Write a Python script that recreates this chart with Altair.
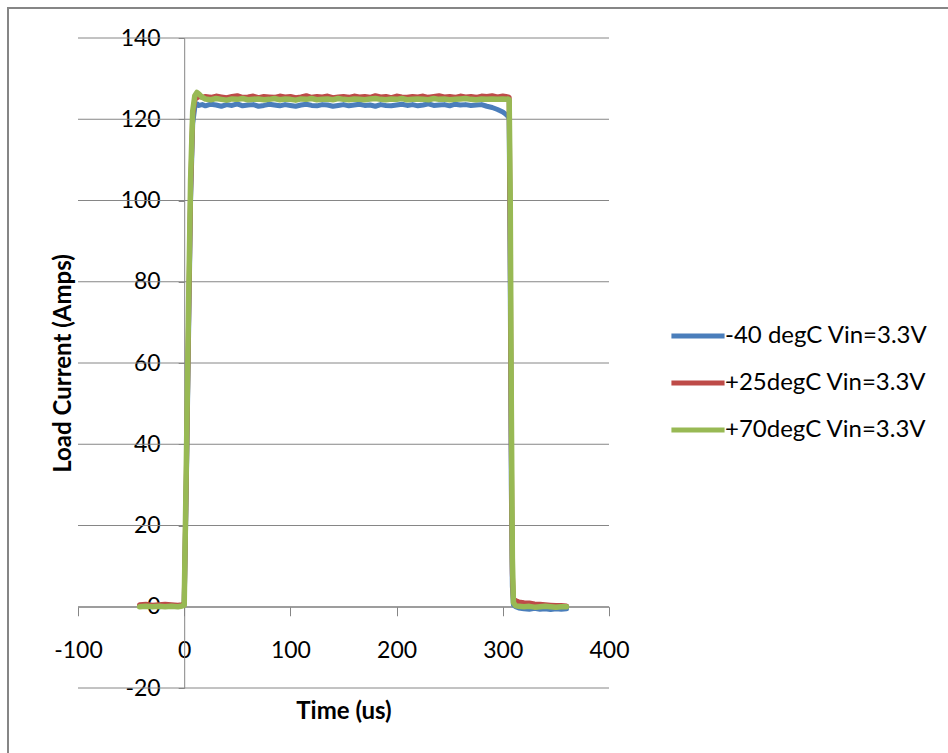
import altair as alt
import pandas as pd

# ---- data ----
series_names = ["-40 degC Vin=3.3V", "+25degC Vin=3.3V", "+70degC Vin=3.3V"]
series_colors = ["#4A7EBB", "#BE4B48", "#98B954"]

times = [-42, -36, -30, -24, -18, -12, -6, -2, 0,
         2, 4, 6, 8, 10, 12, 14, 17,
         20, 25, 30, 35, 40, 45, 50, 55, 60, 65, 70, 75, 80, 85, 90, 95,
         100, 105, 110, 115, 120, 125, 130, 135, 140, 145, 150, 155, 160,
         165, 170, 175, 180, 185, 190, 195, 200, 205, 210, 215, 220, 225,
         230, 235, 240, 245, 250, 255, 260, 265, 270, 275, 280, 285, 290,
         295, 300,
         303, 305, 306, 307, 308, 309, 310, 312, 315,
         320, 325, 330, 335, 340, 345, 350, 355, 360]

amps_m40 = [0.2, 0.1, 0.3, 0.0, 0.2, 0.1, 0.2, 0.3, 0.5,
            30.0, 65.0, 100.0, 119.0, 123.0, 123.8, 123.4, 123.6,
            123.3, 123.7, 123.5, 123.2, 123.6, 123.4, 123.8, 123.3, 123.5, 123.6,
            123.2, 123.4, 123.7, 123.5, 123.3, 123.6, 123.4, 123.2, 123.5, 123.7,
            123.4, 123.3, 123.6, 123.5, 123.2, 123.4, 123.6, 123.3, 123.5, 123.7,
            123.4, 123.5, 123.2, 123.6, 123.4, 123.3, 123.5, 123.7, 123.4, 123.6,
            123.3, 123.5, 123.8, 123.4, 123.5, 123.6, 123.3, 123.7, 123.5, 123.6,
            123.4, 123.5, 123.6,
            123.2, 122.9, 122.4, 121.8,
            121.2, 120.7, 120.0, 80.0, 30.0, 5.0, 0.5, 0.0, -0.3,
            -0.5, -0.6, -0.4, -0.6, -0.5, -0.7, -0.5, -0.6, -0.5]

amps_p25 = [0.5, 0.6, 0.4, 0.5, 0.6, 0.5, 0.4, 0.5, 0.8,
            32.0, 68.0, 102.0, 121.0, 124.8, 125.3, 125.6, 125.4,
            125.6, 125.4, 125.7, 125.5, 125.3, 125.6, 125.8, 125.4, 125.5, 125.7,
            125.3, 125.6, 125.5, 125.4, 125.7, 125.5, 125.6, 125.3, 125.5, 125.8,
            125.4, 125.6, 125.5, 125.7, 125.3, 125.5, 125.6, 125.4, 125.7, 125.5,
            125.6, 125.4, 125.8, 125.5, 125.6, 125.3, 125.7, 125.5, 125.4, 125.6,
            125.5, 125.7, 125.4, 125.6, 125.8, 125.5, 125.6, 125.4, 125.7, 125.5,
            125.6, 125.4, 125.7, 125.6, 125.8, 125.5, 125.7,
            125.6, 125.5, 125.4, 90.0, 40.0, 8.0, 2.0, 1.5, 1.2,
            1.0, 0.9, 0.7, 0.6, 0.5, 0.4, 0.3, 0.3, 0.2]

amps_p70 = [0.0, 0.1, 0.0, 0.1, 0.0, 0.1, 0.0, 0.2, 0.4,
            35.0, 72.0, 105.0, 122.0, 125.8, 126.6, 126.2, 125.4,
            125.0, 124.8, 125.1, 124.9, 124.7, 125.0, 124.9, 125.1, 124.8, 124.9,
            125.0, 124.8, 124.9, 125.1, 124.8, 125.0, 124.9, 124.7, 125.0, 124.9,
            125.1, 124.8, 124.9, 125.0, 124.8, 125.1, 124.9, 124.8, 125.0, 124.9,
            124.8, 125.0, 125.1, 124.9, 124.8, 125.0, 124.9, 125.1, 124.8, 124.9,
            125.0, 124.9, 124.8, 125.1, 124.9, 125.0, 124.8, 124.9, 125.0, 125.1,
            124.9, 124.8, 125.0, 124.9, 125.0, 124.9, 125.0,
            124.9, 125.0, 124.8, 100.0, 50.0, 12.0, 1.0, 0.3, 0.1,
            0.0, 0.1, -0.1, 0.0, 0.1, 0.0, -0.1, 0.0, 0.0]

y_ticks = [-20, 0, 20, 40, 60, 80, 100, 120, 140]
x_ticks = [-100, 0, 100, 200, 300, 400]

for arr in (amps_m40, amps_p25, amps_p70):
    assert len(arr) == len(times), len(arr)

rows = []
for name, vals in zip(series_names, [amps_m40, amps_p25, amps_p70]):
    for i, (t, v) in enumerate(zip(times, vals)):
        rows.append({"series": name, "t": t, "amps": v, "idx": i})
df = pd.DataFrame(rows)

# ---- styling ----
W, H = 531, 650
GRAY = "#868686"
FONT = "Lato"

xscale = alt.Scale(domain=[-100, 400], nice=False, zero=False)
yscale = alt.Scale(domain=[-20, 140], nice=False, zero=False)

xaxis = alt.Axis(values=x_ticks, offset=-81.25, grid=False, labelExpr="'' + datum.value",
                 domainColor=GRAY, domainWidth=1, tickColor=GRAY, tickWidth=1,
                 tickSize=9, labelPadding=24, labelFont=FONT, labelFontSize=23,
                 labelColor="#000000", labelFlush=False, labelOverlap=False,
                 titleFont=FONT, titleFontSize=24, titleFontWeight="bold",
                 titleColor="#000000", titlePadding=37)
yaxis = alt.Axis(values=y_ticks, offset=-106.2, grid=False, labelExpr="'' + datum.value",
                 domainColor=GRAY, domainWidth=1, tickColor=GRAY, tickWidth=1,
                 tickSize=6, labelPadding=18, labelFont=FONT, labelFontSize=23,
                 labelColor="#000000", labelFlush=False, labelOverlap=False,
                 titleFont=FONT, titleFontSize=24, titleFontWeight="bold",
                 titleColor="#000000", titlePadding=45)

legend = alt.Legend(title=None, orient="none", legendX=608, legendY=286,
                    symbolType="M-5,0H5", symbolSize=113, symbolStrokeWidth=5,
                    labelFont=FONT, labelFontSize=24, labelColor="#000000",
                    labelOffset=15, rowPadding=23, labelLimit=400)

color = alt.Color("series:N", scale=alt.Scale(domain=series_names, range=series_colors),
                  sort=series_names, legend=legend)

frame = alt.Chart(pd.DataFrame({"k": [0]})).mark_rect(
    filled=False, stroke=GRAY, strokeWidth=2
).encode(x=alt.value(-70), x2=alt.value(880), y=alt.value(-30), y2=alt.value(725))

grid = alt.Chart(pd.DataFrame({"g": y_ticks})).mark_rule(
    color=GRAY, strokeWidth=1
).encode(
    y=alt.Y("g:Q", scale=yscale, axis=yaxis, title="Load Current (Amps)"),
    x=alt.datum(-100), x2=alt.datum(400),
)

def series_layer(name, width):
    return alt.Chart(df).transform_filter(
        alt.datum.series == name
    ).mark_line(strokeWidth=width, strokeJoin="round", strokeCap="round").encode(
        x=alt.X("t:Q", scale=xscale, axis=xaxis, title="Time (us)"),
        y=alt.Y("amps:Q", scale=yscale, axis=yaxis, title="Load Current (Amps)"),
        color=color,
        order="idx:Q",
    )

lines = [series_layer(series_names[0], 5),
         series_layer(series_names[1], 5),
         series_layer(series_names[2], 5.5)]

chart = alt.layer(frame, grid, *lines).properties(
    width=W, height=H,
    padding={"left": 78, "top": 38, "right": 339, "bottom": 65},
    autosize=alt.AutoSizeParams(type="none"),
    background="white",
).configure_view(stroke=None)

chart.save("out.html", embed_options={"renderer": "svg", "actions": False})
